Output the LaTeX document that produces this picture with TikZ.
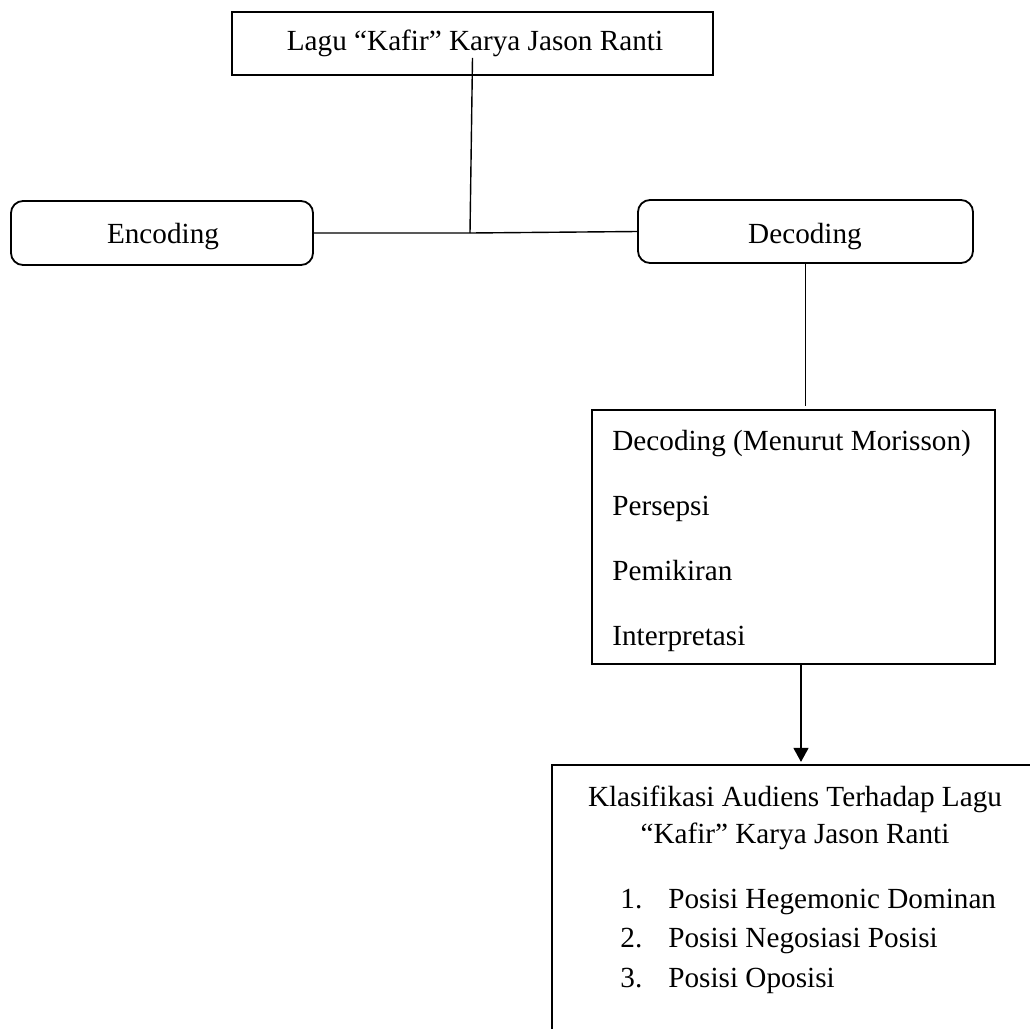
\documentclass[tikz,border=0pt]{standalone}
\usepackage{fontspec}
\setmainfont{Liberation Serif}
\usetikzlibrary{arrows.meta}
\begin{document}
\begin{tikzpicture}[x=0.5pt,y=-0.5pt,
  every node/.style={font=\fontsize{14.6}{17}\selectfont},
  box/.style={draw, line width=0.9pt, inner sep=0pt},
  rbox/.style={box, rounded corners=6pt},
  conn/.style={line width=0.7pt},
  arr/.style={conn, -{Triangle[width=7.5pt,length=7pt]}},
  txt/.style={inner sep=0pt, anchor=base west},
  ctxt/.style={inner sep=0pt, anchor=base}]
\useasboundingbox (0,0) rectangle (1030,1029);
\fill[white] (0,0) rectangle (1030,1029);

% boxes
\node[box, minimum width=240.5pt, minimum height=31.5pt] (top) at (472.5,43.5) {};
\node[ctxt] (toptxt) at (475,50) {Lagu “Kafir” Karya Jason Ranti};

\node[rbox, minimum width=151pt, minimum height=32pt] (enc) at (162,233) {};
\node[ctxt] (enctxt) at (163,243) {Encoding};

\node[rbox, minimum width=167.5pt, minimum height=31.5pt] (dec) at (805.5,231.5) {};
\node[ctxt] (dectxt) at (805,243) {Decoding};

\node[box, minimum width=201.5pt, minimum height=127pt] (mid) at (793.5,537) {};
\node[txt] (m1) at (612,450) {Decoding (Menurut Morisson)};
\node[txt] (m2) at (612,515) {Persepsi};
\node[txt] (m3) at (612,580) {Pemikiran};
\node[txt] (m4) at (612,645) {Interpretasi};

\node[box, minimum width=244pt, minimum height=140pt] (bot) at (796,905) {};
\node[ctxt] (b1) at (795,806) {Klasifikasi Audiens Terhadap Lagu};
\node[ctxt] (b2) at (795,843) {“Kafir” Karya Jason Ranti};
\node[txt] (n1) at (620,908) {1.};
\node[txt] (l1) at (668,908) {Posisi Hegemonic Dominan};
\node[txt] (n2) at (620,947) {2.};
\node[txt] (l2) at (668,947) {Posisi Negosiasi Posisi};
\node[txt] (n3) at (620,987) {3.};
\node[txt] (l3) at (668,987) {Posisi Oposisi};

% connectors
\coordinate (j) at (470,233);
\draw[conn] ([yshift=9pt]top.south) -- (j);
\draw[conn] (enc.east) -- (j) -- (dec.west);
\draw[conn] (dec.south) -- ++(0,142);
\draw[arr] ([xshift=3.75pt]mid.south) -- ++(0,97);
\end{tikzpicture}
\end{document}
